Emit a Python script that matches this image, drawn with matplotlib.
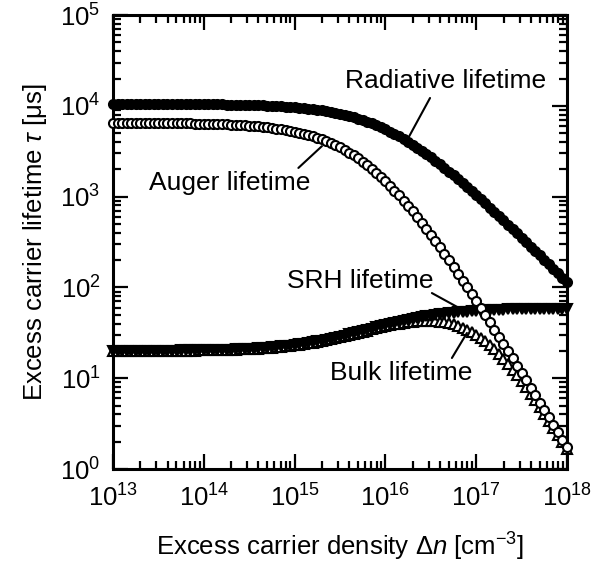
import numpy as np
import matplotlib
matplotlib.use('Agg')
from matplotlib import pyplot as plt
from matplotlib import ticker

plt.rcParams['font.family'] = ['Liberation Sans', 'DejaVu Sans']
plt.rcParams['mathtext.fontset'] = 'custom'
plt.rcParams['mathtext.rm'] = 'Liberation Sans'
plt.rcParams['mathtext.it'] = 'Liberation Sans:italic'

# excess carrier density grid, 20 points per decade
dn = np.logspace(13, 18, 101)

# lifetimes in microseconds
tau_rad = [10490, 10489, 10488, 10487, 10485, 10483, 10481, 10479, 10476, 10473,
           10470, 10466, 10462, 10458, 10452, 10447, 10440, 10433, 10425, 10416,
           10405, 10394, 10381, 10367, 10351, 10333, 10313, 10291, 10266, 10238,
           10207, 10172, 10133, 10090, 10042, 9989, 9930, 9865, 9793, 9713,
           9625, 9528, 9422, 9305, 9178, 9039, 8888, 8725, 8548, 8359,
           8156, 7939, 7710, 7467, 7214, 6948, 6673, 6389, 6097, 5800,
           5500, 5198, 4897, 4597, 4302, 4014, 3731, 3460, 3197, 2948,
           2710, 2485, 2273, 2075, 1890, 1718, 1559, 1412, 1277, 1154,
           1041, 937.5, 844, 759, 681, 612, 549, 492, 440, 394,
           353, 316, 282, 252, 225.5, 201.5, 180, 160.6, 143.4, 128,
           114.3]

tau_auger = [6484, 6483, 6480, 6478, 6475, 6472, 6469, 6465, 6461, 6456,
             6451, 6445, 6438, 6431, 6422, 6413, 6403, 6391, 6378, 6363,
             6347, 6329, 6308, 6286, 6261, 6233, 6201, 6166, 6127, 6084,
             6036, 5983, 5924, 5859, 5788, 5710, 5625, 5531, 5428, 5316,
             5196, 5066, 4926, 4776, 4616, 4447, 4270, 4084, 3890, 3689,
             3484, 3273, 3061, 2848, 2635, 2425, 2220, 2022, 1831, 1650,
             1479, 1318, 1168, 1031, 905, 791, 688, 596, 514, 442,
             379, 324, 276, 234, 198, 168, 142, 119, 100, 84.2,
             70.6, 59.1, 49.4, 41.2, 34.4, 28.6, 23.8, 19.8, 16.5, 13.7,
             11.4, 9.45, 7.84, 6.51, 5.40, 4.47, 3.71, 3.07, 2.54, 2.10,
             1.74]

tau_srh = [20.04, 20.04, 20.04, 20.05, 20.06, 20.06, 20.07, 20.08, 20.09, 20.10,
           20.11, 20.13, 20.14, 20.16, 20.18, 20.20, 20.22, 20.25, 20.28, 20.31,
           20.35, 20.39, 20.44, 20.49, 20.55, 20.62, 20.69, 20.78, 20.87, 20.97,
           21.09, 21.22, 21.36, 21.52, 21.70, 21.90, 22.12, 22.36, 22.63, 22.92,
           23.25, 23.61, 24.00, 24.44, 24.91, 25.43, 25.99, 26.59, 27.25, 27.95,
           28.71, 29.51, 30.36, 31.27, 32.21, 33.19, 34.21, 35.27, 36.35, 37.46,
           38.57, 39.69, 40.81, 41.93, 43.02, 44.09, 45.14, 46.15, 47.13, 48.05,
           48.93, 49.77, 50.56, 51.29, 51.98, 52.62, 53.21, 53.76, 54.26, 54.71,
           55.13, 55.52, 55.87, 56.18, 56.47, 56.73, 56.96, 57.17, 57.37, 57.54,
           57.69, 57.83, 57.95, 58.06, 58.16, 58.25, 58.33, 58.40, 58.47, 58.52,
           58.58]

tau_bulk = [19.94, 19.94, 19.94, 19.95, 19.96, 19.96, 19.97, 19.98, 19.99, 20.00,
            20.01, 20.03, 20.04, 20.06, 20.08, 20.10, 20.12, 20.15, 20.18, 20.21,
            20.25, 20.28, 20.33, 20.38, 20.44, 20.51, 20.58, 20.67, 20.76, 20.86,
            20.97, 21.10, 21.24, 21.40, 21.57, 21.77, 21.98, 22.22, 22.48, 22.77,
            23.09, 23.44, 23.82, 24.25, 24.71, 25.21, 25.76, 26.34, 26.98, 27.65,
            28.38, 29.14, 29.94, 30.80, 31.68, 32.59, 33.52, 34.48, 35.44, 36.40,
            37.33, 38.25, 39.12, 39.94, 40.68, 41.33, 41.88, 42.31, 42.60, 42.71,
            42.65, 42.41, 41.94, 41.23, 40.29, 39.16, 37.77, 36.08, 34.23, 32.24,
            30.06, 27.78, 25.43, 23.05, 20.73, 18.44, 16.29, 14.28, 12.45, 10.76,
            9.27, 7.92, 6.74, 5.72, 4.84, 4.07, 3.42, 2.86, 2.39, 2.00,
            1.665]

fig = plt.figure(figsize=(5.92, 5.74), dpi=100)
ax = fig.add_axes([0.1909, 0.1829, 0.7669, 0.7909])

mk = dict(ms=6.5, mew=1.5, mec='black', ls='none', clip_on=False)
ax.plot(dn, tau_bulk, marker='^', mfc='white', zorder=3, **mk)
ax.plot(dn, tau_srh, marker='v', mfc='black', zorder=4, **mk)
ax.plot(dn, tau_auger, marker='o', mfc='white', zorder=5, **mk)
ax.plot(dn, tau_rad, marker='o', mfc='black', zorder=6, **mk)

ax.set_xscale('log')
ax.set_yscale('log')
ax.set_xlim(1e13, 1e18)
ax.set_ylim(1e0, 1e5)

for s in ax.spines.values():
    s.set_linewidth(2.2)
ax.tick_params(which='both', direction='in', top=True, right=True, width=1.6)
ax.tick_params(which='major', length=11, labelsize=18.5)
ax.tick_params(axis='x', which='major', pad=11)
ax.tick_params(axis='y', which='major', pad=9)
ax.tick_params(which='minor', length=5.5)
for axis in (ax.xaxis, ax.yaxis):
    axis.set_minor_locator(ticker.LogLocator(base=10, subs=np.arange(2, 10), numticks=20))
    axis.set_minor_formatter(ticker.NullFormatter())

ax.set_xlabel(r'Excess carrier density $\Delta n$ [cm$^{-3}$]', fontsize=18.5, labelpad=14)
ax.set_ylabel(r'Excess carrier lifetime $\tau$ [$\mathrm{\mu}$s]', fontsize=18.5, labelpad=8)

# curve labels and their leader lines
def label(text, pos, start, end):
    ax.text(pos[0], pos[1], text, fontsize=19, ha='center', va='center', zorder=7)
    ax.annotate('', xy=end, xytext=start,
                arrowprops=dict(arrowstyle='-', lw=1.5, color='black', shrinkA=0, shrinkB=0),
                zorder=7)

label('Radiative lifetime', (4.65e16, 1.87e4), (3.1e16, 1.22e4), (1.78e16, 4.4e3))
label('Auger lifetime', (1.95e14, 1.41e3), (1.1e15, 2.07e3), (2.0e15, 3.6e3))
label('SRH lifetime', (5.25e15, 118), (3.25e16, 86.7), (6.2e16, 60.8))
label('Bulk lifetime', (1.5e16, 11.4), (5.4e16, 16.7), (7.9e16, 31.5))

fig.savefig('out.png', dpi=100)
